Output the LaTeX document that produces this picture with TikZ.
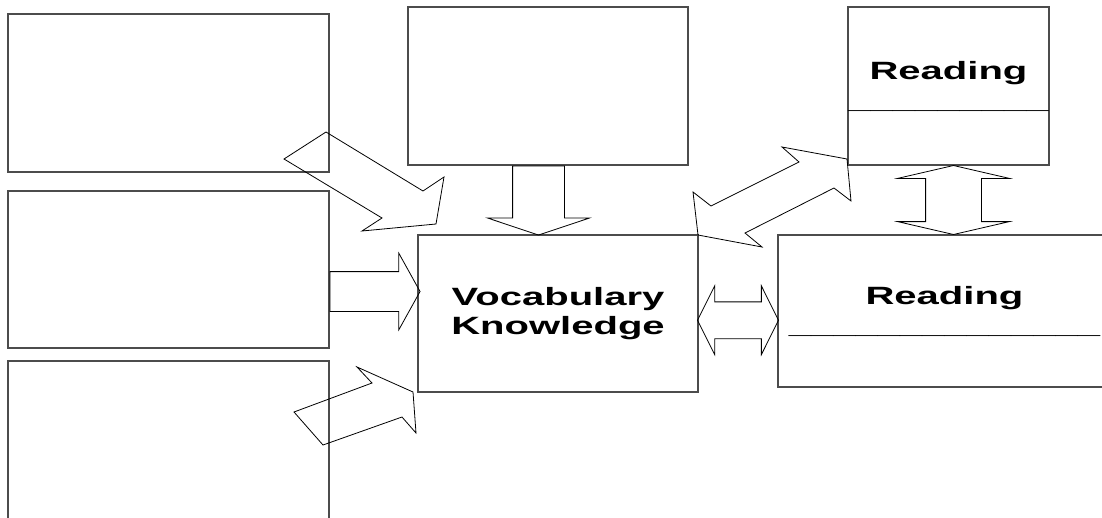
\documentclass[tikz,border=0pt]{standalone}
\usepackage{fontspec}
\setmainfont{Liberation Sans}[FakeStretch=1.6]
\usetikzlibrary{shapes.arrows,calc}
\tikzstyle{box} = [rectangle, draw=black!70, line width=1.3pt, inner sep=0pt, align=center, font=\fontsize{25}{29}\selectfont\bfseries]
\tikzstyle{arr} = [draw=black, line width=0.8pt, inner xsep=0pt]
\tikzstyle{harrow} = [arr, single arrow, single arrow head indent=0pt]
\tikzstyle{darrow} = [arr, double arrow, double arrow head indent=0pt]

\begin{document}
\begin{tikzpicture}[x=1pt, y=-1pt]
 \useasboundingbox (0,0) rectangle (1102,517);
 \node (lbox1) [box, minimum width=321pt, minimum height=158pt] at (168.5,93) {};
 \node (lbox2) [box, minimum width=321pt, minimum height=157pt] at (168.5,269.5) {};
 \node (lbox3) [box, minimum width=321pt, minimum height=178pt] at (168.5,450) {};
 \node (topbox) [box, minimum width=280pt, minimum height=158pt] at (548,86) {};
 \node (readtop) [box, minimum width=201pt, minimum height=158pt] at (948.5,86) {Reading\\\_\_\_\_\_\_\_\_\_};
 \node (vocab) [box, minimum width=280pt, minimum height=157pt] at (558,313.5) {Vocabulary\\Knowledge};
 \node (readright) [box, minimum width=333pt, minimum height=152pt] at (944.5,311) {Reading\\\_\_\_\_\_\_\_\_\_\_\_\_\_\_};

 \node (a2) [harrow, yshift=-22pt, anchor=tail, inner ysep=19.5pt, minimum height=90pt, single arrow head extend=18.5pt, single arrow tip angle=122] at (lbox2.east) {};
 \node (atop) [harrow, xshift=-9.5pt, rotate=-90, anchor=tail, inner ysep=25.5pt, minimum height=69pt, single arrow head extend=25pt, single arrow tip angle=143] at (topbox.south) {};
 \node (aright) [darrow, yshift=-8pt, inner ysep=18pt, minimum height=81pt, double arrow head extend=16pt, double arrow tip angle=127] at ($(vocab.east)!0.5!(readright.west)$) {};
 \node (aread) [darrow, xshift=7pt, rotate=90, inner ysep=27.5pt, minimum height=69pt, double arrow head extend=28pt, double arrow tip angle=154] at ($(readtop.south)!0.5!(readright.north)$) {};

 \draw[arr] (284,159) -- (326,132) -- (423,191) -- (444,177) -- (436,224) -- (362,231) -- (382,218) -- cycle;
 \draw[arr] (294,412) -- (372,383) -- (357,367) -- (413,392) -- (416,433) -- (402,417) -- (323,445) -- cycle;
 \draw[arr] (782,147) -- (847,159) -- (851,201) -- (834,188) -- (745,233) -- (762,247) -- (698,235) -- (693,192) -- (711,206) -- (799,162) -- cycle;
\end{tikzpicture}
\end{document}
